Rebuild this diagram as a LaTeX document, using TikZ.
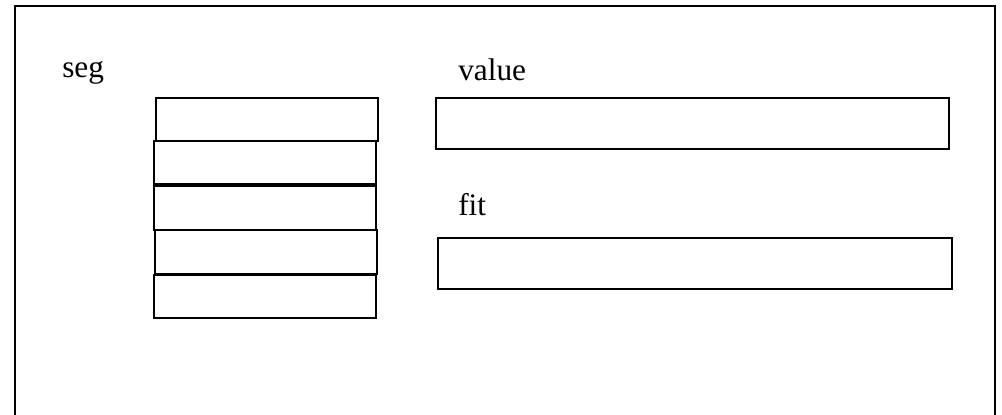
\documentclass[tikz,border=0pt]{standalone}
\usepackage{fontspec}
\setmainfont{Liberation Serif}
\begin{document}
\begin{tikzpicture}[x=0.75pt,y=-0.75pt,
  cell/.style={draw=black,line width=1.4pt,inner sep=0pt,outer sep=0pt,rectangle},
  lbl/.style={anchor=base west,inner sep=0pt,font=\fontsize{23.5}{28}\selectfont}]
\useasboundingbox (0,0) rectangle (1002,414);
\clip (0,0) rectangle (1002,414);
\node[draw=black,line width=1.6pt,inner sep=0pt,minimum width=980.5*0.75pt,minimum height=440*0.75pt,anchor=north west] (frame) at (13.5,5) {};
\node[lbl] (seg) at (62,77) {seg};
\node[lbl] (value) at (458,80) {value};
\node[lbl] (fit) at (458,215) {fit};
\node[cell,minimum width=222*0.75pt,minimum height=42.4*0.75pt] (s1) at (267,119.5) {};
\node[cell,minimum width=222.3*0.75pt,minimum height=42.7*0.75pt] (s2) at (265.2,162.7) {};
\node[cell,minimum width=222.6*0.75pt,minimum height=44.6*0.75pt] (s3) at (265,208) {};
\node[cell,minimum width=222*0.75pt,minimum height=43.7*0.75pt] (s4) at (266.3,252.2) {};
\node[cell,minimum width=222.3*0.75pt,minimum height=42.7*0.75pt] (s5) at (265.2,296.4) {};
\node[cell,minimum width=513*0.75pt,minimum height=50.7*0.75pt] (vbox) at (692.5,123.7) {};
\node[cell,minimum width=513.4*0.75pt,minimum height=51*0.75pt] (fbox) at (695,263.2) {};
\end{tikzpicture}
\end{document}
